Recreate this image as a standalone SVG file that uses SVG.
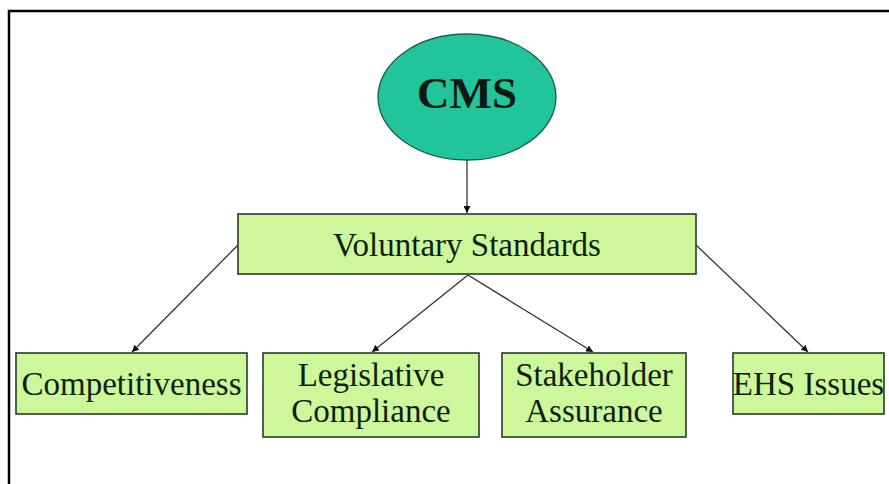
<svg xmlns="http://www.w3.org/2000/svg" width="889" height="484" viewBox="0 0 889 484">
<style>
.box{fill:#ccf79a;stroke:#2a3a2a;stroke-width:1.6}
.t{font-family:"Liberation Serif","Times New Roman",serif;font-size:33px;fill:#0f1f10;text-anchor:middle}
.c{stroke:#333;stroke-width:1.3;fill:none;marker-end:url(#ah)}
</style>
<defs>
<marker id="ah" viewBox="0 0 10 10" refX="10" refY="5" markerWidth="7" markerHeight="7" markerUnits="userSpaceOnUse" orient="auto">
<path d="M0,0 L10,5 L0,10 z" fill="#111"/>
</marker>
</defs>
<rect x="0" y="0" width="889" height="484" fill="#fff"/>
<path d="M9,484 V11 H889" fill="none" stroke="#000" stroke-width="2.5"/>
<g id="connectors">
<line class="c" x1="467" y1="160" x2="467" y2="213"/>
<line class="c" x1="238" y1="245" x2="132" y2="352"/>
<line class="c" x1="468" y1="275" x2="372" y2="352"/>
<line class="c" x1="468" y1="275" x2="593" y2="352"/>
<line class="c" x1="696" y1="245" x2="808" y2="352"/>
</g>
<g id="cms">
<ellipse cx="467" cy="97" rx="89" ry="63" fill="#22c49b" stroke="#1b5e45" stroke-width="1.3"/>
<text x="467" y="108" style="font-family:'Liberation Serif','Times New Roman',serif;font-size:45px;font-weight:bold;fill:#0a1a10;text-anchor:middle">CMS</text>
</g>
<g id="voluntary">
<rect class="box" x="238" y="214" width="458" height="60"/>
<text class="t" x="467" y="256">Voluntary Standards</text>
</g>
<g id="competitiveness">
<rect class="box" x="16" y="353" width="231" height="61"/>
<text class="t" x="131.5" y="395">Competitiveness</text>
</g>
<g id="legislative">
<rect class="box" x="263" y="353" width="216" height="84"/>
<text class="t" x="371" y="386">Legislative</text>
<text class="t" x="371" y="422">Compliance</text>
</g>
<g id="stakeholder">
<rect class="box" x="502" y="353" width="184" height="84"/>
<text class="t" x="594" y="386">Stakeholder</text>
<text class="t" x="594" y="422">Assurance</text>
</g>
<g id="ehs">
<rect class="box" x="733" y="353" width="151" height="61"/>
<text class="t" x="808.5" y="395">EHS Issues</text>
</g>
</svg>
